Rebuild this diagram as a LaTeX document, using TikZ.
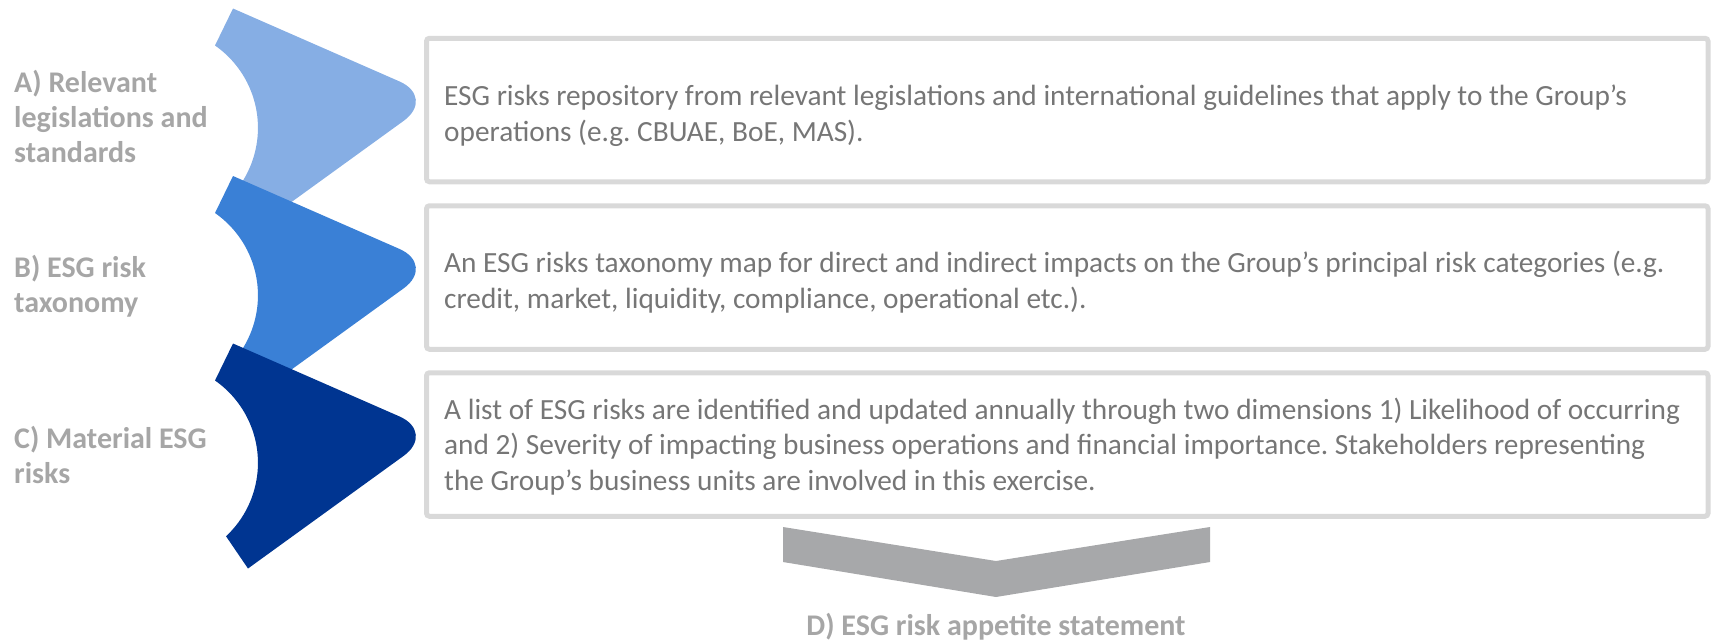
\documentclass[tikz,border=0pt]{standalone}
\usepackage{fontspec}
\usetikzlibrary{positioning}
\setmainfont{Carlito}
\frenchspacing
\definecolor{chevA}{HTML}{86AEE4}
\definecolor{chevB}{HTML}{3A80D6}
\definecolor{chevC}{HTML}{003591}
\definecolor{labelgray}{HTML}{A6A6A6}
\definecolor{textgray}{HTML}{767676}
\definecolor{framegray}{HTML}{D9D9D9}
\definecolor{arrowgray}{HTML}{A7A8AA}
\tikzset{
  infobox/.style={draw=framegray, line width=5pt, rounded corners=3pt,
    minimum width=1281.5pt, minimum height=143.5pt},
  boxtext/.style={anchor=west, align=left, inner sep=0pt, text=textgray,
    font=\fontsize{29.3}{35.5}\selectfont},
  sidelabel/.style={anchor=west, align=left, text=labelgray, inner sep=0pt,
    font=\bfseries\fontsize{30}{35}\selectfont},
}
\begin{document}
\begin{tikzpicture}[x=1pt,y=1pt]
\useasboundingbox (0,0) rectangle (1712,-641);
\foreach \col/\ytop in {chevA/8.5,chevB/176,chevC/343.5}{
  \fill[\col] (233,-\ytop) -- (215,-\ytop-37) arc[start angle=55.1, end angle=-47, radius=100.4]
    -- (248,-\ytop-225) -- (403.6,-\ytop-112.4)
    .. controls (421.5,-\ytop-99.5) and (419.6,-\ytop-81.8) .. (399.4,-\ytop-72.9) -- cycle;
}
\node[sidelabel] (labA) at (14,-116) {A) Relevant\\legislations and\\standards};
\node[sidelabel] (labB) at (14,-286) {B) ESG risk\\taxonomy};
\node[sidelabel] (labC) at (14,-455) {C) Material ESG\\risks};
\node[infobox] (boxA) at (1067.25,-110) {};
\node[infobox] (boxB) at (1067.25,-277.5) {};
\node[infobox] (boxC) at (1067.25,-444.5) {};
\node[boxtext, right=20pt of boxA.west, yshift=-5.5pt] (txtA) {ESG risks repository from relevant legislations and international guidelines that apply to the Group’s\\operations (e.g. CBUAE, BoE, MAS).};
\node[boxtext, right=20pt of boxB.west, yshift=-4.5pt] (txtB) {An ESG risks taxonomy map for direct and indirect impacts on the Group’s principal risk categories (e.g.\\credit, market, liquidity, compliance, operational etc.).};
\node[boxtext, right=20pt of boxC.west, yshift=-2pt] (txtC) {A list of ESG risks are identified and updated annually through two dimensions 1) Likelihood of occurring\\and 2) Severity of impacting business operations and financial importance. Stakeholders representing\\the Group’s business units are involved in this exercise.};
\fill[arrowgray] (783,-527) -- (996,-561) -- (1210,-527) -- (1210,-562) -- (996,-597) -- (783,-562) -- cycle;
\node[anchor=base, inner sep=0pt, text=labelgray, font=\bfseries\fontsize{30}{35}\selectfont] (labD) at (996,-635) {D) ESG risk appetite statement};
\end{tikzpicture}
\end{document}
